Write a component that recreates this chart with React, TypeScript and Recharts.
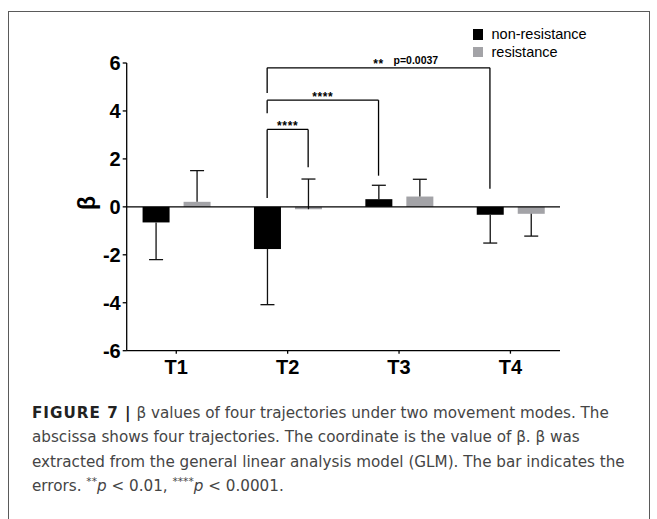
import React from 'react';
import { BarChart, Bar, XAxis, YAxis, ReferenceLine } from 'recharts';

const categories = ['T1', 'T2', 'T3', 'T4'];
const nonResistance = [-0.65, -1.76, 0.32, -0.33];
const resistance = [0.21, -0.1, 0.43, -0.29];
// signed error extent (drawn one way, from the bar end)
const nonResistanceErr = [-1.55, -2.32, 0.58, -1.18];
const resistanceErr = [1.3, 1.26, 0.72, -0.93];
const yTicks = [-6, -4, -2, 0, 2, 4, 6];
const seriesNames = ['non-resistance', 'resistance'];
const seriesColors = ['#000000', '#a3a3a7'];

// significance brackets
const bracketFromCat = [2, 2, 2];
const bracketFromSeries = [0, 0, 0];
const bracketToCat = [4, 3, 2];
const bracketToSeries = [0, 0, 1];
const bracketY = [5.8, 4.45, 3.23];
const bracketLeftEnd = [4.75, 3.9, 0.37];
const bracketRightEnd = [0.75, 1.3, 1.65];
const bracketStars = ['**', '****', '****'];
const bracketP = ['p=0.0037', '', ''];

const data = categories.map((c, i) => ({
  x: i + 1,
  name: c,
  non: nonResistance[i],
  nonErr: nonResistanceErr[i],
  res: resistance[i],
  resErr: resistanceErr[i],
}));

const CHART_W = 657;
const CHART_H = 400;
const Y_AXIS_W = 60;
const MARGIN = { top: 63, right: 97, bottom: 19.3, left: 66.7 };
const X_DOMAIN: [number, number] = [0.555, 4.445];
const BAR_SIZE = 27;
const BAR_GAP = 14;
const plotW = CHART_W - MARGIN.left - Y_AXIS_W - MARGIN.right;
const pxPerUnit = plotW / (X_DOMAIN[1] - X_DOMAIN[0]);
const SERIES_OFF = (BAR_SIZE + BAR_GAP) / 2 / pxPerUnit;
const seriesX = (cat: number, s: number) => cat + (s === 0 ? -SERIES_OFF : SERIES_OFF);

const FONT = "'Liberation Sans', Arial, Helvetica, sans-serif";

const makeShape = (valKey: string, errKey: string, fill: string) => (props: any) => {
  const { x, y, width, height, payload } = props;
  const val = payload[valKey];
  const err = payload[errKey];
  const top = Math.min(y, y + height);
  const h = Math.abs(height);
  const zero = val >= 0 ? top + h : top;
  const barEnd = val >= 0 ? top : top + h;
  const ppu = h / Math.abs(val);
  const end = zero - (val + err) * ppu;
  const cx = x + width / 2;
  return (
    <g>
      <rect x={x} y={top} width={width} height={h} fill={fill} />
      <line x1={cx} x2={cx} y1={barEnd} y2={end} stroke="#111" strokeWidth={1.3} />
      <line x1={cx - 7} x2={cx + 7} y1={end} y2={end} stroke="#111" strokeWidth={1.3} />
    </g>
  );
};

const BracketLabel = (stars: string, p: string) => (props: any) => {
  const vb = props.viewBox || {};
  const cx = vb.x + (vb.width || 0) / 2;
  const y = vb.y;
  return (
    <g>
      <text x={cx} y={y + 0.5} textAnchor="middle" fontFamily={FONT} fontWeight="bold" fontSize={12} letterSpacing={0.6} fill="#000">
        {stars}
      </text>
      {p ? (
        <text x={cx + 15} y={y - 3.5} textAnchor="start" fontFamily={FONT} fontWeight="bold" fontSize={10.5} fill="#000">
          {p}
        </text>
      ) : null}
    </g>
  );
};

const YLabel = (props: any) => {
  const vb = props.viewBox || {};
  const x = vb.x + 20;
  const y = vb.y + vb.height / 2 - 4;
  return (
    <text x={x} y={y} transform={`rotate(-90 ${x} ${y})`} textAnchor="middle" dominantBaseline="central" fontFamily={FONT} fontWeight="bold" fontSize={23} fill="#000">
      β
    </text>
  );
};

export default function App() {
  const axisTick = { fontFamily: FONT, fontWeight: 'bold' as const, fontSize: 20, fill: '#000' };
  return (
    <div style={{ position: 'absolute', left: 0, top: 0, width: 657, height: 519, overflow: 'hidden', background: '#fff' }}>
      <div style={{ position: 'absolute', left: 8, top: 11, width: 640, height: 600, border: '1px solid #5a5a5a' }} />
      <div style={{ position: 'absolute', left: 0, top: 0 }}>
        <BarChart width={CHART_W} height={CHART_H} data={data} margin={MARGIN} barSize={BAR_SIZE} barGap={BAR_GAP}>
          <XAxis
            type="number"
            dataKey="x"
            domain={X_DOMAIN}
            allowDataOverflow
            ticks={[1, 2, 3, 4]}
            tickFormatter={(v: number) => categories[v - 1]}
            height={30}
            tickSize={3}
            tickMargin={6}
            stroke="#000"
            strokeWidth={1.3}
            tick={axisTick}
          />
          <YAxis
            domain={[-6, 6]}
            ticks={yTicks}
            width={Y_AXIS_W}
            tickSize={4}
            tickMargin={2}
            stroke="#000"
            strokeWidth={1.3}
            tick={axisTick}
            label={{ content: YLabel }}
          />
          <Bar dataKey="non" name={seriesNames[0]} fill={seriesColors[0]} isAnimationActive={false} shape={makeShape('non', 'nonErr', seriesColors[0])} />
          <Bar dataKey="res" name={seriesNames[1]} fill={seriesColors[1]} isAnimationActive={false} shape={makeShape('res', 'resErr', seriesColors[1])} />
          <ReferenceLine y={0} stroke="#000" strokeWidth={1.3} />
          {bracketY.map((by, i) => {
            const x1 = seriesX(bracketFromCat[i], bracketFromSeries[i]);
            const x2 = seriesX(bracketToCat[i], bracketToSeries[i]);
            return (
              <React.Fragment key={i}>
                <ReferenceLine
                  segment={[{ x: x1, y: by }, { x: x2, y: by }]}
                  stroke="#000"
                  strokeWidth={1.3}
                  ifOverflow="visible"
                  label={{ content: BracketLabel(bracketStars[i], bracketP[i]) }}
                />
                <ReferenceLine segment={[{ x: x1, y: by }, { x: x1, y: bracketLeftEnd[i] }]} stroke="#000" strokeWidth={1.3} ifOverflow="visible" />
                <ReferenceLine segment={[{ x: x2, y: by }, { x: x2, y: bracketRightEnd[i] }]} stroke="#000" strokeWidth={1.3} ifOverflow="visible" />
              </React.Fragment>
            );
          })}
        </BarChart>
      </div>
      {seriesNames.map((n, i) => (
        <div key={n} style={{ position: 'absolute', left: 473, top: 29 + i * 17.5, height: 11, display: 'flex', alignItems: 'center' }}>
          <div style={{ width: 10, height: 10.7, background: seriesColors[i] }} />
          <span style={{ marginLeft: 8.5, fontFamily: FONT, fontSize: 14.5, color: '#000', lineHeight: '11px' }}>{n}</span>
        </div>
      ))}
      <div style={{ position: 'absolute', left: 32, top: 401, fontFamily: "'DejaVu Sans', sans-serif", fontSize: 15.2, lineHeight: '24.3px', color: '#454545', whiteSpace: 'nowrap' }}>
        <div><b style={{ color: '#222', letterSpacing: 1 }}>FIGURE 7 |</b> β values of four trajectories under two movement modes. The</div>
        <div>abscissa shows four trajectories. The coordinate is the value of β. β was</div>
        <div>extracted from the general linear analysis model (GLM). The bar indicates the</div>
        <div>
          errors. <span style={{ fontSize: '0.7em', verticalAlign: 'super', lineHeight: 0 }}>**</span><i>p</i> &lt; 0.01, <span style={{ fontSize: '0.7em', verticalAlign: 'super', lineHeight: 0 }}>****</span><i>p</i> &lt; 0.0001.
        </div>
      </div>
    </div>
  );
}
